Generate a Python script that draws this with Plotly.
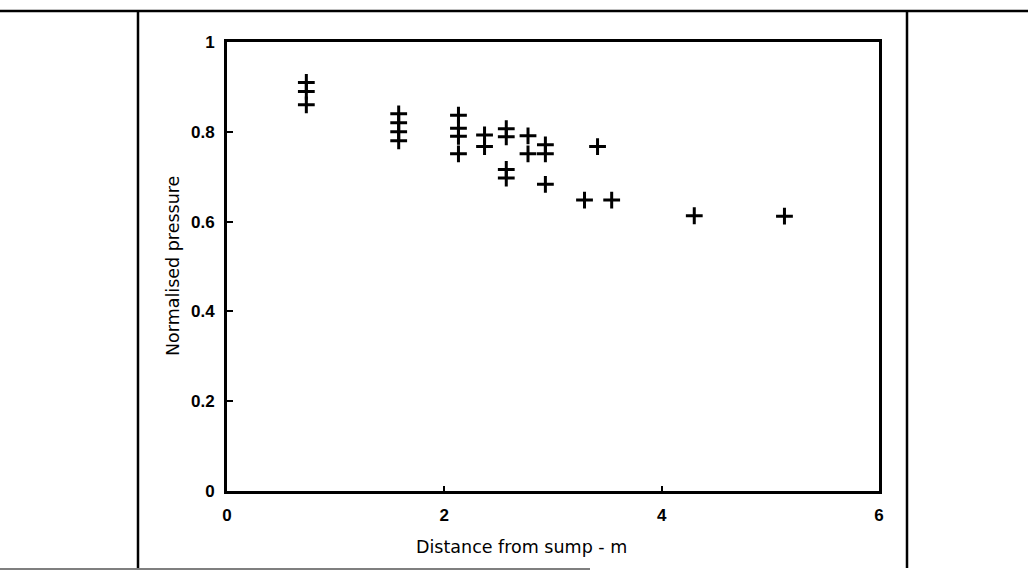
import plotly.graph_objects as go

distance_m = [0.73, 0.73, 0.73,
              1.58, 1.58, 1.58, 1.58,
              2.13, 2.13, 2.13, 2.13,
              2.37, 2.37,
              2.57, 2.57, 2.57, 2.57,
              2.77, 2.77,
              2.93, 2.93, 2.93,
              3.41, 3.29, 3.54, 4.30, 5.13]
normalised_pressure = [0.91, 0.89, 0.86,
                       0.84, 0.82, 0.80, 0.78,
                       0.837, 0.808, 0.79, 0.751,
                       0.793, 0.767,
                       0.807, 0.789, 0.716, 0.697,
                       0.791, 0.751,
                       0.771, 0.751, 0.683,
                       0.767, 0.648, 0.648, 0.613, 0.612]

x_tick_vals = [0, 2, 4, 6]
x_tick_text = ["0", "2", "4", "6"]
y_tick_vals = [0, 0.2, 0.4, 0.6, 0.8, 1]
y_tick_text = ["0", "0.2", "0.4", "0.6", "0.8", "1"]

x_title = "Distance from sump - m"
y_title = "Normalised pressure"

FONT = "Liberation Sans"
TITLE_FONT = "DejaVu Sans"

fig = go.Figure()
fig.add_trace(go.Scatter(
    x=distance_m, y=normalised_pressure, mode="markers",
    marker=dict(symbol="cross-thin", size=12, color="black",
                line=dict(color="black", width=3)),
    showlegend=False, hoverinfo="x+y",
))

L, R, T, B = 227, 879, 42, 491
W, H = 1028, 571
pw, ph = R - L, B - T


def px(x):
    return (x - L) / pw


def py(y):
    return (B - y) / ph


tick_font = dict(family=FONT, size=17, color="black", weight="bold")

fig.update_layout(
    width=W, height=H,
    margin=dict(l=L, r=W - R, t=T, b=H - B, pad=0),
    paper_bgcolor="white", plot_bgcolor="white",
    font=dict(family=FONT, size=12, color="black"),
    xaxis=dict(range=[0, 6], tickvals=x_tick_vals, ticktext=x_tick_text,
               showgrid=False, zeroline=False, showline=True, linecolor="black",
               linewidth=3, mirror=True, ticks="inside", ticklen=5, tickwidth=1.5,
               tickcolor="black", ticklabelstandoff=7, tickfont=tick_font),
    yaxis=dict(range=[0, 1], tickvals=y_tick_vals, ticktext=y_tick_text,
               showgrid=False, zeroline=False, showline=True, linecolor="black",
               linewidth=3, mirror=True, ticks="inside", ticklen=6, tickwidth=2,
               tickcolor="black", ticklabelstandoff=6, tickfont=tick_font),
)

# outer frame lines
line_style = dict(color="black", width=2.5)
fig.add_shape(type="line", xref="paper", yref="paper",
              x0=px(0), x1=px(W), y0=py(11), y1=py(11), line=line_style)
fig.add_shape(type="line", xref="paper", yref="paper",
              x0=px(138), x1=px(138), y0=py(11), y1=py(568), line=line_style)
fig.add_shape(type="line", xref="paper", yref="paper",
              x0=px(907), x1=px(907), y0=py(11), y1=py(568), line=line_style)
fig.add_shape(type="line", xref="paper", yref="paper",
              x0=px(0), x1=px(590), y0=py(569), y1=py(569),
              line=dict(color="#555555", width=1.5))

fig.add_annotation(text=x_title, xref="paper", yref="paper",
                   x=px(521), y=py(547), xanchor="center", yanchor="middle",
                   showarrow=False,
                   font=dict(family=TITLE_FONT, size=17.5, color="black"))
fig.add_annotation(text=y_title, xref="paper", yref="paper",
                   x=px(173), y=py(266), xanchor="center", yanchor="middle",
                   showarrow=False, textangle=-90,
                   font=dict(family=TITLE_FONT, size=17.5, color="black"))

fig.write_html("out.html",
               config={"displayModeBar": False},
               post_script="document.body.style.margin='0';"
                           "document.body.style.overflow='hidden';")
